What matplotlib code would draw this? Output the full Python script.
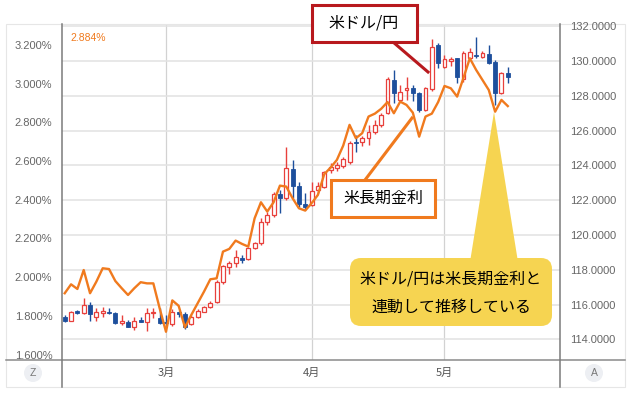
import numpy as np
import pandas as pd
import matplotlib
matplotlib.use('Agg')
import matplotlib.pyplot as plt
from matplotlib.patches import Rectangle, FancyBboxPatch, Polygon, Ellipse
from matplotlib.lines import Line2D
from matplotlib.transforms import Affine2D
from matplotlib.ticker import FuncFormatter

# ---------------- data ----------------
start_date = '2022-02-07'
n_days = 71

usdjpy_open = [115.31, 115.07, 115.60, 115.50, 115.98, 115.31, 115.50, 115.56, 115.50, 114.93,
               115.02, 114.70, 115.11, 115.02, 115.50, 115.21, 115.02, 114.89, 115.55, 115.46,
               114.89, 115.31, 115.60, 115.84, 116.17, 117.32, 118.18, 118.37, 118.66, 118.60,
               119.24, 119.52, 120.76, 121.15, 122.34, 122.11, 123.79, 122.83, 121.76, 121.72,
               122.59, 122.78, 123.74, 123.83, 123.95, 124.20, 125.36, 125.33, 125.59, 125.90,
               126.32, 127.00, 128.91, 127.76, 128.33, 128.43, 128.14, 127.18, 128.40, 130.92,
               129.67, 130.02, 130.16, 128.95, 130.16, 130.34, 130.25, 130.40, 129.96, 128.18,
               129.29]
usdjpy_high = [115.40, 115.62, 115.70, 116.40, 116.17, 115.79, 115.88, 115.79, 115.55, 115.40,
               115.10, 115.31, 115.31, 115.79, 115.79, 115.79, 115.40, 115.73, 115.65, 115.57,
               115.40, 115.75, 115.90, 116.20, 117.40, 118.30, 118.52, 119.14, 118.85, 119.30,
               119.60, 120.96, 121.34, 122.49, 122.59, 125.07, 124.31, 123.06, 122.40, 123.06,
               123.06, 123.70, 124.12, 124.20, 124.50, 125.40, 125.75, 125.70, 126.32, 126.61,
               127.00, 129.10, 129.48, 128.62, 129.10, 128.62, 128.24, 128.50, 131.25, 131.02,
               130.34, 130.25, 130.20, 130.59, 130.73, 131.36, 130.60, 130.92, 130.05, 129.39,
               129.64]
usdjpy_low = [115.00, 115.05, 115.45, 115.45, 115.06, 115.06, 115.31, 115.45, 114.90, 114.83,
              114.70, 114.54, 114.98, 114.48, 115.21, 114.88, 114.73, 114.77, 115.30, 114.58,
              114.83, 115.25, 115.55, 115.80, 116.10, 117.20, 117.76, 118.18, 118.37, 118.55,
              119.20, 119.45, 120.57, 121.05, 121.25, 122.01, 122.11, 121.63, 121.44, 121.68,
              122.40, 122.70, 123.55, 123.70, 123.85, 124.10, 124.79, 125.10, 125.17, 125.80,
              126.20, 126.95, 127.57, 127.66, 127.76, 127.70, 127.09, 127.10, 128.30, 129.58,
              129.60, 129.71, 128.72, 128.81, 130.10, 130.16, 130.16, 129.83, 127.47, 128.10,
              128.72]
usdjpy_close = [115.07, 115.59, 115.54, 115.98, 115.44, 115.56, 115.63, 115.50, 114.93, 115.06,
                114.73, 115.06, 115.02, 115.50, 115.59, 114.93, 114.94, 115.59, 115.46, 114.70,
                115.31, 115.65, 115.84, 116.11, 117.32, 118.24, 118.37, 118.72, 118.56, 119.24,
                119.52, 120.76, 121.15, 122.34, 122.14, 123.83, 122.83, 121.76, 121.63, 122.53,
                122.83, 123.60, 123.93, 124.02, 124.38, 125.27, 125.27, 125.55, 125.90, 126.32,
                126.90, 128.99, 128.14, 128.24, 128.47, 128.14, 127.18, 128.43, 130.82, 129.87,
                130.10, 130.10, 129.10, 130.44, 130.53, 130.29, 130.48, 129.90, 128.18, 129.29,
                129.10]
us10y_yield = [1.917, 1.963, 1.939, 2.037, 1.917, 1.977, 2.046, 2.042, 1.980, 1.943,
               1.908, 1.943, 1.974, 1.968, 1.968, 1.839, 1.718, 1.880, 1.852, 1.740,
               1.805, 1.865, 1.925, 1.989, 1.994, 2.132, 2.146, 2.189, 2.172, 2.158,
               2.304, 2.387, 2.339, 2.387, 2.473, 2.468, 2.408, 2.356, 2.344, 2.382,
               2.425, 2.532, 2.566, 2.606, 2.680, 2.787, 2.718, 2.744, 2.830, 2.845,
               2.870, 2.905, 2.847, 2.907, 2.890, 2.850, 2.726, 2.830, 2.845, 2.905,
               2.988, 2.976, 2.933, 3.030, 3.131, 3.071, 3.019, 2.967, 2.855, 2.916,
               2.884]
pct_ticks = [1.6, 1.8, 2.0, 2.2, 2.4, 2.6, 2.8, 3.0, 3.2]
yen_ticks = [114, 116, 118, 120, 122, 124, 126, 128, 130, 132]

# ---------------- styling ----------------
RED = '#E8403C'
BLUE = '#1D4F9C'
ORANGE = '#F07A1E'
W, H, DPI = 632, 393, 100
JP = ['Noto Sans CJK JP', 'DejaVu Sans']
NUM = ['Liberation Sans', 'DejaVu Sans']

dates = pd.bdate_range(start_date, periods=n_days)
x = np.arange(n_days)
month_pos = [i for i in range(1, n_days) if dates[i].month != dates[i - 1].month]
month_lab = [f'{dates[i].month}月' for i in month_pos]

o = np.array(usdjpy_open); h = np.array(usdjpy_high)
l = np.array(usdjpy_low); c = np.array(usdjpy_close)
up = c >= o

fig = plt.figure(figsize=(W / DPI, H / DPI), dpi=DPI)
fig.patch.set_facecolor('white')
T = Affine2D().scale(1, -1).translate(0, H).scale(1 / DPI) + fig.dpi_scale_trans

ax = fig.add_axes([62 / W, 33 / H, 498 / W, 335 / H])
ax2 = ax.twinx()

ax.set_xlim(-0.43, 78.25)
ax.set_ylim(112.82, 132.07)
ax.set_yticks(yen_ticks)
ax.yaxis.set_major_formatter(FuncFormatter(lambda v, p: f'{v:.4f}'))
ax.grid(axis='y', color='#E2E2E2', lw=1.1)
ax.set_axisbelow(True)
for mp in month_pos:
    ax.axvline(mp, color='#D2D2D2', lw=0.9, zorder=0.5)

# candles
cols = np.where(up, RED, BLUE)
ax.vlines(x, l, h, colors=cols, lw=1.0, zorder=2)
bb = np.minimum(o, c)
bh = np.maximum(np.abs(c - o), 0.07)
ax.bar(x[up], bh[up], bottom=bb[up], width=0.62, facecolor='white',
       edgecolor=RED, linewidth=0.9, zorder=3)
ax.bar(x[~up], bh[~up], bottom=bb[~up], width=0.62, facecolor=BLUE,
       edgecolor=BLUE, linewidth=0.6, zorder=3)

ax.set_xticks(month_pos)
ax.set_xticklabels(month_lab, fontfamily=JP, fontsize=8, color='#555555')
ax.tick_params(axis='x', length=0, pad=6)

ax2.set_ylim(1.572, 3.303)
ax2.plot(x, us10y_yield, color=ORANGE, lw=1.7, zorder=4)
ax2.set_yticks(pct_ticks)
ax2.yaxis.set_major_formatter(FuncFormatter(lambda v, p: f'{v:.3f}%'))

# yen labels on the right, percent labels on the left
ax.yaxis.set_ticks_position('right')
ax.yaxis.set_label_position('right')
ax2.yaxis.set_ticks_position('left')
ax2.yaxis.set_label_position('left')
ax.tick_params(axis='y', length=0, pad=7, labelsize=8, labelcolor='#666666',
               left=False, labelleft=False, right=True, labelright=True)
ax2.tick_params(axis='y', length=0, pad=7, labelsize=8, labelcolor='#666666',
                right=False, labelright=False, left=True, labelleft=True)
for t in ax.get_yticklabels() + ax2.get_yticklabels():
    t.set_fontfamily(NUM)

for a in (ax, ax2):
    for s in a.spines.values():
        s.set_visible(False)

# ---------------- frame ----------------
fig.add_artist(Rectangle((6, 24), 619, 363, transform=T, fill=False,
                         edgecolor='#E6E6E6', lw=0.8, zorder=0))
fig.add_artist(Line2D([6, 625], [360, 360], transform=T, color='#8A8A8A', lw=1.1))
fig.add_artist(Line2D([62, 62], [24, 387], transform=T, color='#7A7A7A', lw=1.1))
fig.add_artist(Line2D([560, 560], [24, 387], transform=T, color='#7A7A7A', lw=1.1))
for cx, ch in ((33, 'Z'), (594, 'A')):
    fig.add_artist(Ellipse((cx, 373), 18, 18, transform=T, facecolor='#EDEFF3',
                           edgecolor='none'))
    fig.text(cx, 373, ch, transform=T, ha='center', va='center', fontsize=7.5,
             color='#777777', fontfamily=NUM)

fig.text(70, 38, f'{us10y_yield[-1]:.3f}%', transform=T, ha='left', va='center',
         fontsize=7.5, color=ORANGE, fontfamily=NUM)

# ---------------- annotations ----------------
DRED = '#B8191E'
fig.add_artist(Line2D([393, 428], [42, 72], transform=T, color=DRED, lw=2.2, zorder=5))
fig.add_artist(Rectangle((312, 5), 104.5, 36.5, transform=T, facecolor='white',
                         edgecolor=DRED, lw=2.2, zorder=6))
fig.text(364, 23.5, '米ドル/円', transform=T, ha='center', va='center', fontsize=11.5,
         fontfamily=JP, color='black', zorder=7)

fig.add_artist(Line2D([365, 412], [180, 118], transform=T, color=ORANGE, lw=2.2, zorder=5))
fig.add_artist(Rectangle((331, 180), 104, 36.5, transform=T, facecolor='white',
                         edgecolor=ORANGE, lw=2.2, zorder=6))
fig.text(383, 198.5, '米長期金利', transform=T, ha='center', va='center', fontsize=11.5,
         fontfamily=JP, color='black', zorder=7)

YEL = '#F6D451'
fig.add_artist(Polygon([[494, 112], [470, 262], [518, 262]], closed=True, transform=T,
                       facecolor=YEL, edgecolor='none', zorder=5))
fig.add_artist(FancyBboxPatch((350, 258), 202, 68, boxstyle='round,pad=0,rounding_size=11',
                              transform=T, facecolor=YEL, edgecolor='none', zorder=5))
fig.text(451, 279.5, '米ドル/円は米長期金利と', transform=T, ha='center', va='center',
         fontsize=11.5, fontfamily=JP, color='black', zorder=7)
fig.text(451, 307, '連動して推移している', transform=T, ha='center', va='center',
         fontsize=11.5, fontfamily=JP, color='black', zorder=7)

fig.savefig('out.png', dpi=DPI, facecolor='white')
